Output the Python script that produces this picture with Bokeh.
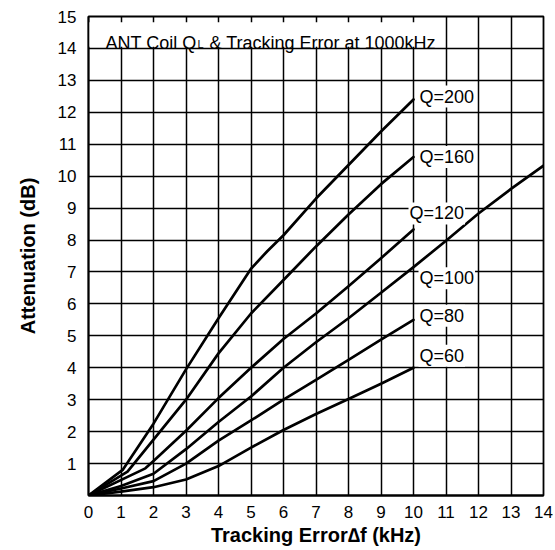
import numpy as np
from bokeh.plotting import figure
from bokeh.models import Range1d, FixedTicker, Label, BoxAnnotation
from bokeh.embed import file_html
from bokeh.resources import INLINE

# ---------------- data ----------------
x_ticks = list(range(0, 15))
y_ticks = list(range(1, 16))
y_grid = list(range(0, 16))

q200_x = [0, 1.05, 2, 3, 4, 5, 5.5, 6, 7, 8, 9, 10]
q200_y = [0, 0.8, 2.25, 3.95, 5.55, 7.1, 7.65, 8.15, 9.3, 10.35, 11.4, 12.4]

q160_x = [0, 1.2, 2, 3, 4, 5, 6, 7, 8, 9, 10]
q160_y = [0, 0.75, 1.75, 3.0, 4.45, 5.7, 6.75, 7.8, 8.8, 9.75, 10.6]

q120_x = [0, 1.75, 2, 3, 4, 5, 6, 7, 8, 9, 10]
q120_y = [0, 0.85, 1.08, 2.03, 3.05, 4.0, 4.9, 5.7, 6.55, 7.43, 8.33]

q100_x = [0, 1, 2, 3, 4, 5, 6, 7, 8, 9, 10, 11, 12, 13, 14]
q100_y = [0, 0.3, 0.68, 1.45, 2.3, 3.1, 4.0, 4.8, 5.55, 6.35, 7.15, 7.98, 8.83, 9.6, 10.33]

q80_x = [0, 1, 2, 3, 4, 5, 6, 7, 8, 9, 10]
q80_y = [0, 0.22, 0.45, 1.0, 1.72, 2.35, 3.0, 3.62, 4.25, 4.88, 5.5]

q60_x = [0, 1, 2, 3, 4, 5, 6, 7, 8, 9, 10]
q60_y = [0, 0.12, 0.26, 0.5, 0.92, 1.5, 2.05, 2.55, 3.02, 3.5, 4.0]

series_names = ["Q=200", "Q=160", "Q=120", "Q=100", "Q=80", "Q=60"]
series_x = [q200_x, q160_x, q120_x, q100_x, q80_x, q60_x]
series_y = [q200_y, q160_y, q120_y, q100_y, q80_y, q60_y]
label_at_x = 10

title_main = "ANT Coil Q"
title_sub = "L"
title_rest = "& Tracking Error at 1000kHz"
x_label = "Tracking Error\u2206f (kHz)"
y_label = "Attenuation (dB)"

# ---------------- styles ----------------
FONT = "Liberation Sans"
label_offsets = {  # (x_offset px, y_offset px)
    "Q=200": (5, 3),
    "Q=160": (5, 0),
    "Q=120": (-5, 16),
    "Q=100": (5, -11),
    "Q=80": (5, 4),
    "Q=60": (5, 12),
}

p = figure(width=553, height=548,
           x_range=Range1d(0, 14), y_range=Range1d(0, 15),
           output_backend="svg", toolbar_location=None,
           min_border_left=88, min_border_right=10,
           min_border_top=16, min_border_bottom=50)
p.background_fill_color = "white"
p.border_fill_color = "white"
p.outline_line_color = "black"
p.outline_line_width = 1.8
p.outline_line_alpha = 1.0

# grid
p.xgrid.ticker = FixedTicker(ticks=x_ticks)
p.ygrid.ticker = FixedTicker(ticks=y_grid)
for g in (p.xgrid, p.ygrid):
    g.grid_line_color = "black"
    g.grid_line_width = 1.5
    g.grid_line_alpha = 1.0

# axes
p.xaxis.ticker = FixedTicker(ticks=x_ticks)
p.yaxis.ticker = FixedTicker(ticks=y_ticks)
for ax in (p.xaxis, p.yaxis):
    ax.major_tick_out = 0
    ax.major_tick_in = 0
    ax.minor_tick_out = 0
    ax.minor_tick_in = 0
    ax.axis_line_color = "black"
    ax.axis_line_width = 1.8
    ax.major_label_text_font = FONT
    ax.major_label_text_font_size = "17px"
    ax.major_label_text_color = "black"
    ax.axis_label_text_font = FONT
    ax.axis_label_text_font_size = "20px"
    ax.axis_label_text_font_style = "bold"
    ax.axis_label_text_color = "black"
p.xaxis.major_label_standoff = 10
p.yaxis.major_label_standoff = 12
p.xaxis.axis_label_standoff = 3
p.yaxis.axis_label_standoff = 16
p.xaxis.axis_label = x_label
p.yaxis.axis_label = y_label

# curves
for xs, ys in zip(series_x, series_y):
    p.line(xs, ys, line_width=2.7, line_color="black", line_join="round", line_cap="round")

# curve labels
for name, xs, ys in zip(series_names, series_x, series_y):
    dx, dy = label_offsets[name]
    p.add_layout(Label(x=label_at_x, y=float(np.interp(label_at_x, xs, ys)), text=name,
                       x_offset=dx, y_offset=dy, text_align="left", text_baseline="middle",
                       text_font=FONT, text_font_size="18px", text_color="black",
                       background_fill_color="white", background_fill_alpha=1.0, padding=1))

# in-plot title with white backing
p.add_layout(BoxAnnotation(left=0.03, right=10.95, bottom=14.05, top=14.82,
                           fill_color="white", fill_alpha=1.0, line_color=None, line_alpha=0,
                           level="overlay"))
p.add_layout(Label(x=0, y=15, x_offset=17, y_offset=-26, text=title_main,
                   text_align="left", text_baseline="alphabetic", level="overlay",
                   text_font=FONT, text_font_size="18px", text_color="black"))
p.add_layout(Label(x=0, y=15, x_offset=109, y_offset=-27, text=title_sub,
                   text_align="left", text_baseline="alphabetic", level="overlay",
                   text_font=FONT, text_font_size="11px", text_color="black"))
p.add_layout(Label(x=0, y=15, x_offset=121, y_offset=-26, text=title_rest,
                   text_align="left", text_baseline="alphabetic", level="overlay",
                   text_font=FONT, text_font_size="18px", text_color="black"))

open("out.html", "w").write(file_html(p, INLINE))
